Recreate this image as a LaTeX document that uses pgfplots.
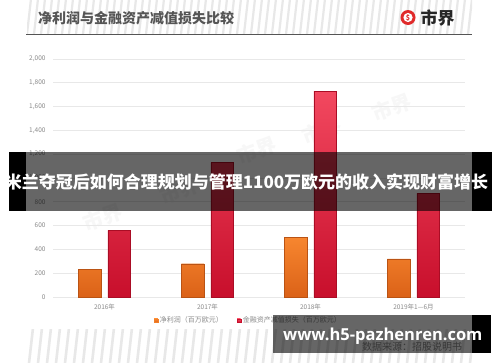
\documentclass[border=0pt]{standalone}
\usepackage{pgfplots}
\pgfplotsset{compat=1.18}
\usepackage{fontspec}
\setmainfont{Noto Sans CJK SC}
\newfontfamily\osans{Open Sans}
\definecolor{orgT}{HTML}{F7862F}
\definecolor{orgB}{HTML}{DB6218}
\definecolor{redT}{HTML}{F2485F}
\definecolor{redB}{HTML}{C80F2C}
\definecolor{tickc}{HTML}{8A8A8A}
\definecolor{titlec}{HTML}{555555}
\definecolor{logored}{HTML}{E02A2A}
\begin{document}
\begin{tikzpicture}[x=1pt,y=1pt]
\begin{scope}[y=-1pt]
\useasboundingbox (0,0) rectangle (500,362);
\fill[white] (0,0) rectangle (500,362);
% header stripes
\begin{scope}
\clip (27,0) rectangle (472,33);
\foreach \x in {20,27,...,480} \draw[gray!18, line width=2.2pt] (\x,34) -- (\x+4,-1);
\end{scope}
\begin{scope}
\clip (27,329) rectangle (472,362);
\foreach \x in {20,29,...,480} \draw[gray!18, line width=2.6pt] (\x,363) -- (\x+4,328);
\end{scope}
\draw[color=titlec, line width=1.6pt] (26,34.5) -- (472,34.5);
\node[anchor=west, inner sep=0, font=\bfseries\fontsize{14}{14}\selectfont, text=titlec] at (38,18.5) {净利润与金融资产减值损失比较};
% logo
\fill[logored] (408,17.5) circle (7.5);
\fill[white] (408,17.5) circle (4.6);
\node[text=logored, inner sep=0, font=\bfseries\fontsize{7}{7}\selectfont] at (408,17.5) {\$};
\node[anchor=west, inner sep=0, font=\bfseries\fontsize{17}{17}\selectfont, text=black!85] at (420.5,18) {市界};
% faint watermarks
\foreach \p in {(103,217),(180,190),(257,150),(322,130),(392,107)}
  \node[rotate=20, text=gray!6, font=\bfseries\fontsize{20}{20}\selectfont] at \p {市界};
\end{scope}
\begin{axis}[
  at={(53pt,-297pt)}, anchor=south west, scale only axis,
  width=412pt, height=238pt,
  xmin=-0.5, xmax=3.5, ymin=0, ymax=2000,
  ytick={0,200,...,2000},
  xtick={0,1,2,3},
  xticklabels={2016年,2017年,2018年,2019年1—6月},
  ymajorgrids, grid style={color=gray!18, line width=0.8pt},
  axis line style={draw=none},
  major tick length=0pt,
  tick label style={font=\fontsize{6.5}{7}\selectfont, text=tickc},
  yticklabel style={xshift=-4pt},
  xticklabel style={yshift=-3pt},
  /pgf/number format/1000 sep={,},
  /pgf/number format/assume math mode=true,
  legend columns=2,
  legend style={at={(0.4745,-0.0996)}, anchor=center, draw=none, fill=none,
    font=\fontsize{7}{7}\selectfont, text=tickc,
    /tikz/every even column/.append style={column sep=12pt}},
]
\addplot[ybar, bar width=22.7pt, bar shift=-14.7pt, draw=orgB!85!black, line width=0.3pt,
  top color=orgT, bottom color=orgB,
  legend image code/.code={\fill[orgT!80!orgB] (0pt,-1.8pt) rectangle (3.6pt,1.8pt);}]
  coordinates {(0,230) (1,280) (2,500) (3,320)};
\addplot[ybar, bar width=22.7pt, bar shift=14.7pt, draw=redB!85!black, line width=0.3pt,
  top color=redT, bottom color=redB,
  legend image code/.code={\fill[redB] (0pt,-1.8pt) rectangle (3.6pt,1.8pt);}]
  coordinates {(0,560) (1,1130) (2,1730) (3,870)};
\legend{净利润（百万欧元）,金融资产减值损失（百万欧元）}
\end{axis}
\begin{scope}[y=-1pt]
% overlay band
\fill[black, opacity=0.6] (26,152) rectangle (472,211);
\fill[black] (9,152) rectangle (26,211);
\fill[black] (472,152) rectangle (492,211);
\node[text=white, inner sep=0, font=\bfseries\fontsize{17}{17}\selectfont] at (246.5,181.5) {米兰夺冠后如何合理规划与管理1100万欧元的收入实现财富增长};
% source + url box
\node[anchor=west, inner sep=0, text=tickc, font=\fontsize{10}{10}\selectfont] at (362,347) {数据来源：招股说明书};
\fill[black, opacity=0.6] (273,315) rectangle (472,353);
\fill[black] (472,315) rectangle (491,353);
\node[anchor=west, inner sep=0, text=white, font=\osans\bfseries\fontsize{16.5}{16.5}\selectfont] at (283,336) {www.h5-pazhenren.com};
\end{scope}
\end{tikzpicture}
\end{document}
